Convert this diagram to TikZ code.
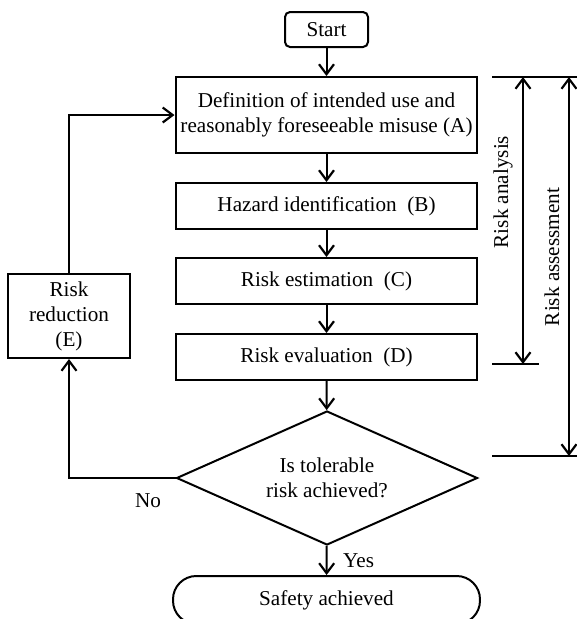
\documentclass[tikz,border=0pt]{standalone}
\usepackage{fontspec}
\setmainfont{Liberation Serif}
\usetikzlibrary{arrows.meta,shapes.geometric}
\begin{document}
\begin{tikzpicture}[x=0.6pt,y=-0.6pt,
    font=\fontsize{12.7}{15}\selectfont,
    every path/.style={line width=1.2pt},
    stepbox/.style={draw,align=center,inner sep=0pt,minimum width=181.2pt,minimum height=27.6pt},
    flow/.style={-{Straight Barb[length=6pt,width=9pt,line width=1.3pt]}},
    span/.style={{Straight Barb[length=6pt,width=9pt,line width=1.3pt]}-{Straight Barb[length=6pt,width=9pt,line width=1.3pt]}}]
  \useasboundingbox (0,0) rectangle (577,619);
  % main column
  \node[draw,rounded corners=3pt,minimum width=49.8pt,minimum height=21pt,inner sep=0pt] (start) at (326.5,29.5) {Start};
  \node[stepbox,minimum height=45.6pt] (def) at (326.5,115) {Definition of intended use and\\reasonably foreseeable misuse (A)};
  \node[stepbox] (haz) at (326.5,206) {Hazard identification\ \ (B)};
  \node[stepbox] (est) at (326.5,281) {Risk estimation\ \ (C)};
  \node[stepbox] (eva) at (326.5,357) {Risk evaluation\ \ (D)};
  \node[draw,diamond,aspect=2.25,inner sep=0pt,minimum width=180.6pt,minimum height=80.4pt,align=center] (tol) at (327,478) {Is tolerable\\risk achieved?};
  \node[draw,rounded corners=14pt,minimum width=184.2pt,minimum height=28.8pt,inner sep=0pt] (safe) at (326.5,600) {Safety achieved};
  \node[draw,align=center,minimum width=73.2pt,minimum height=50.4pt,inner sep=0pt] (red) at (69,316) {Risk\\reduction\\(E)};
  \draw[flow] (start) -- (def);
  \draw[flow] (def) -- (haz);
  \draw[flow] (haz) -- (est);
  \draw[flow] (est) -- (eva);
  \draw[flow] (eva) -- (tol);
  \draw[flow] (tol) -- (safe) node[midway,right=6pt] (yes) {Yes};
  \draw[flow] (tol.west) -| (red.south);
  \node (no) at (148,501) {No};
  \draw[flow] (red.north) |- (def.west);
  % brackets on the right
  \coordinate (top l) at (492,77);
  \coordinate (top r) at (577,77);
  \coordinate (ana l) at (492,364);
  \coordinate (ana r) at (539,364);
  \coordinate (ass l) at (492,456);
  \coordinate (ass r) at (577,456);
  \draw (top l) -- (top r);
  \draw (ana l) -- (ana r);
  \draw (ass l) -- (ass r);
  \draw[span] (523,77) -- (523,364);
  \draw[span] (569,77) -- (569,456);
  \node[rotate=90] (ana) at (503,192) {Risk analysis};
  \node[rotate=90] (ass) at (552,257) {Risk assessment};
\end{tikzpicture}
\end{document}
